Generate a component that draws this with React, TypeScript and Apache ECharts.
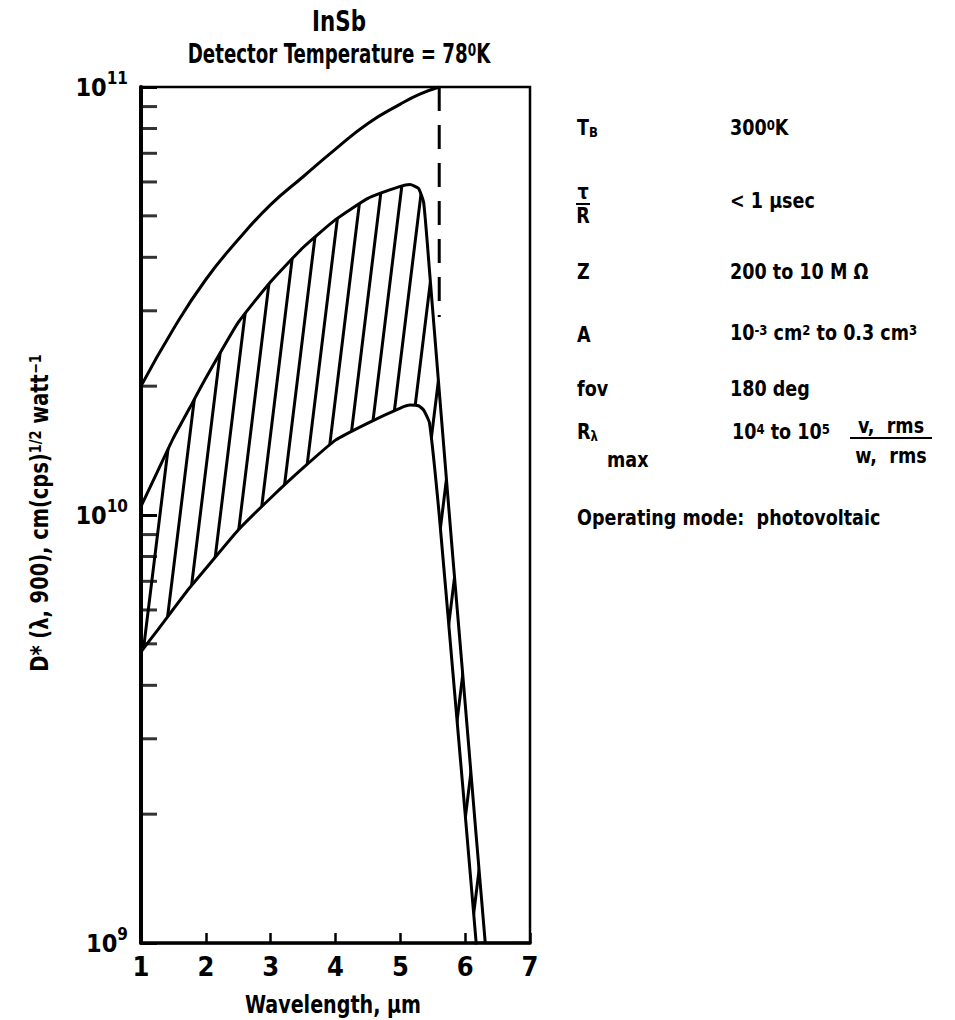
import React, { useEffect, useRef } from 'react';
import * as echarts from 'echarts';

// ---- data ----
const wavelengthBand = [1.0, 1.25, 1.5, 1.75, 2.0, 2.5, 3.0, 3.5, 4.0, 4.5, 5.0, 5.15, 5.28, 5.36, 5.45, 5.6, 5.8, 6.0, 6.17, 6.31];
const dStarHigh = [1.047e10, 1.259e10, 1.514e10, 1.778e10, 2.089e10, 2.818e10, 3.508e10, 4.217e10, 4.898e10, 5.495e10, 5.861e10, 5.916e10, 5.794e10, 5.37e10, 3.72e10, 1.95e10, 8.3e9, 3.63e9, 1.78e9, 1.0e9];
const dStarLow = [4.79e9, 5.37e9, 6.03e9, 6.76e9, 7.5e9, 9.23e9, 1.096e10, 1.288e10, 1.496e10, 1.64e10, 1.778e10, 1.807e10, 1.8e10, 1.758e10, 1.64e10, 1.0e10, 4.47e9, 2.0e9, 1.0e9, 5.75e8];
const wavelengthIdeal = [1.0, 1.5, 2.0, 2.5, 3.0, 3.5, 4.0, 4.5, 5.0, 5.3, 5.6];
const dStarIdeal = [2.0e10, 2.72e10, 3.55e10, 4.4e10, 5.31e10, 6.17e10, 7.16e10, 8.22e10, 9.12e10, 9.62e10, 1.0e11];
const cutoffWavelength = [5.6, 5.6];
const cutoffDStar = [1.0e11, 2.9e10];
const minorTickValues = [2e9, 3e9, 4e9, 5e9, 6e9, 7e9, 8e9, 9e9, 2e10, 3e10, 4e10, 5e10, 6e10, 7e10, 8e10, 9e10];
const xMin = 1;
const xMax = 7;
const yMin = 1e9;
const yMax = 1e11;

const F = "'DejaVu Sans Condensed', 'Liberation Sans Narrow', sans-serif";

const tok = (size: number, va: string, lh: number) => ({
  fontSize: size, fontFamily: F, fontWeight: 'bold', fill: '#000', color: '#000', verticalAlign: va, lineHeight: lh,
});

const txt = (x: number, y: number, text: string, size: number, align = 'left', sx = 1, extra: any = {}) => ({
  type: 'text',
  x, y, scaleX: sx,
  ...extra,
  style: {
    text,
    fontSize: size, fontFamily: F, fontWeight: 'bold', fill: '#000',
    align, verticalAlign: 'middle', textAlign: align, textVerticalAlign: 'middle',
    rich: {
      b: tok(size, 'middle', size + 14),
      sup: tok(Math.round(size * 0.68), 'top', Math.round(size * 0.5)),
      sub: tok(Math.round(size * 0.68), 'bottom', Math.round(size * 0.5)),
    },
  },
});

export default function App() {
  const ref = useRef<HTMLDivElement>(null);
  useEffect(() => {
    if (!ref.current) return;
    const chart = echarts.init(ref.current, undefined, { renderer: 'svg' });
    const lowPairs = wavelengthBand.map((x, i) => [x, dStarLow[i]]);
    const highPairs = wavelengthBand.map((x, i) => [x, dStarHigh[i]]);
    const idealPairs = wavelengthIdeal.map((x, i) => [x, dStarIdeal[i]]);
    const cutoffPairs = cutoffWavelength.map((x, i) => [x, cutoffDStar[i]]);
    const tickPairs = minorTickValues.map((v) => [xMin, v]);
    const RP = 21; // right panel font
    const RS = 0.93;

    const option: any = {
      animation: false,
      backgroundColor: '#fff',
      textStyle: { fontFamily: F, fontWeight: 'bold', color: '#000' },
      grid: { left: 141, right: 425, top: 87, bottom: 77, show: true, borderColor: '#000', borderWidth: 2.5, backgroundColor: 'transparent' },
      xAxis: {
        type: 'value', min: xMin, max: xMax, interval: 1, z: 5,
        axisLine: { lineStyle: { color: '#000', width: 3.5 } },
        axisTick: { inside: true, length: 10, lineStyle: { color: '#000', width: 2.5 } },
        axisLabel: { fontSize: 27, fontFamily: F, fontWeight: 'bold', color: '#000', margin: 10 },
        splitLine: { show: false },
      },
      yAxis: {
        type: 'log', logBase: 10, min: yMin, max: yMax, splitNumber: 2, z: 5,
        axisLine: { lineStyle: { color: '#000', width: 4 } },
        axisTick: { inside: true, length: 16, lineStyle: { color: '#000', width: 3 } },
        axisLabel: {
          margin: 13,
          formatter: (v: number) => `{b|10}{s|${Math.round(Math.log10(v))}}`,
          rich: {
            b: { fontSize: 25, fontFamily: F, fontWeight: 'bold', color: '#000', lineHeight: 36, verticalAlign: 'middle' },
            s: { fontSize: 17, fontFamily: F, fontWeight: 'bold', color: '#000', lineHeight: 12, verticalAlign: 'top' },
          },
        },
        splitLine: { show: false },
        minorTick: { show: false },
      },
      series: [
        {
          // upper boundary of the measured band, hatched down to the axis
          type: 'line', name: 'high', data: highPairs, showSymbol: false, symbol: 'none',
          smooth: 0.15, lineStyle: { color: '#000', width: 3 },
          areaStyle: { color: 'rgba(0,0,0,0)', opacity: 1, origin: 'start' },
          itemStyle: {
            color: '#000',
            decal: {
              symbol: 'rect', symbolSize: 1, color: '#000', backgroundColor: 'rgba(0,0,0,0)',
              dashArrayX: [1, 0], dashArrayY: [2.5, 17], rotation: (-83 * Math.PI) / 180,
            },
          },
          z: 2,
        },
        {
          // lower boundary; white area hides the hatching below it
          type: 'line', name: 'low', data: lowPairs, showSymbol: false, symbol: 'none',
          smooth: 0.15, lineStyle: { color: '#000', width: 3 },
          areaStyle: { color: '#fff', opacity: 1, origin: 'start' },
          itemStyle: { color: '#000' }, z: 3,
        },
        {
          type: 'line', name: 'ideal', data: idealPairs, showSymbol: false, symbol: 'none',
          smooth: 0.5, lineStyle: { color: '#000', width: 3 }, z: 4,
        },
        {
          type: 'line', name: 'cutoff', data: cutoffPairs, showSymbol: false, symbol: 'none',
          lineStyle: { color: '#000', width: 3, type: [24, 14] }, z: 4,
        },
        {
          type: 'scatter', name: 'ticks', data: tickPairs, symbol: 'rect', symbolSize: [16, 3],
          symbolOffset: [8, 0], itemStyle: { color: '#000' }, silent: true, z: 6, clip: false,
        },
      ],
      graphic: [
        txt(339, 21, 'InSb', 29, 'center', 0.82),
        txt(339, 54, 'Detector Temperature = 78{sup|0}K', 27, 'center', 0.75),
        txt(333, 1004, 'Wavelength, μm', 25, 'center', 0.85),
        txt(40, 513, 'D* (λ, 900), cm(cps){sup|1/2} watt{sup|−1}', 24, 'center', 0.9, { rotation: Math.PI / 2 }),
        // right panel
        txt(577, 128, 'T{sub|B}', RP, 'left', RS),
        txt(730, 128, '300{sup|0}K', RP, 'left', RS),
        txt(583, 192, 'τ', RP, 'center', RS),
        { type: 'line', shape: { x1: 576, y1: 204, x2: 590, y2: 204 }, style: { stroke: '#000', lineWidth: 2 } },
        txt(583, 216, 'R', RP, 'center', RS),
        txt(730, 201, '< 1 μsec', RP, 'left', RS),
        txt(577, 272, 'Z', RP, 'left', RS),
        txt(730, 272, '200 to 10 M Ω', RP, 'left', RS),
        txt(577, 335, 'A', RP, 'left', RS),
        txt(730, 333, '10{sup|-3} cm{sup|2} to 0.3 cm{sup|3}', RP, 'left', RS),
        txt(577, 389, 'fov', RP, 'left', RS),
        txt(730, 389, '180 deg', RP, 'left', RS),
        txt(577, 432, 'R{sub|λ}', RP, 'left', RS),
        txt(607, 460, 'max', RP, 'left', RS),
        txt(732, 432, '10{sup|4} to 10{sup|5}', RP, 'left', RS),
        txt(891, 426, 'v,  rms', RP, 'center', RS),
        { type: 'line', shape: { x1: 850, y1: 438, x2: 932, y2: 438 }, style: { stroke: '#000', lineWidth: 2 } },
        txt(891, 456, 'w,  rms', RP, 'center', RS),
        txt(577, 518, 'Operating mode:  photovoltaic', RP, 'left', RS),
      ],
    };
    chart.setOption(option);
    return () => chart.dispose();
  }, []);
  return <div ref={ref} style={{ position: 'absolute', left: 0, top: 0, width: 955, height: 1020 }} />;
}
